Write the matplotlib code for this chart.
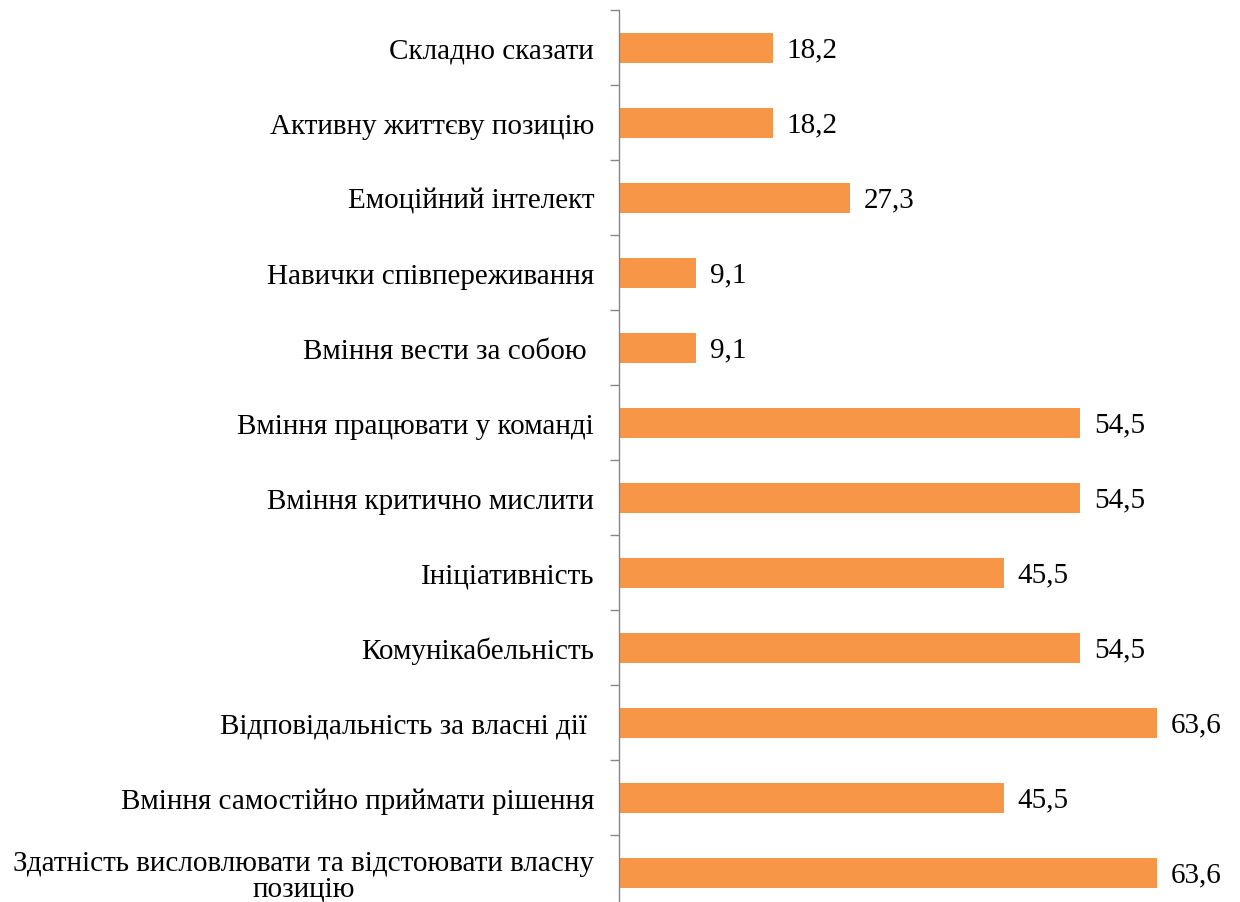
import matplotlib.pyplot as plt
import numpy as np

categories = [
    "Складно сказати",
    "Активну життєву позицію",
    "Емоційний інтелект",
    "Навички співпереживання",
    "Вміння вести за собою ",
    "Вміння працювати у команді",
    "Вміння критично мислити",
    "Ініціативність",
    "Комунікабельність",
    "Відповідальність за власні дії ",
    "Вміння самостійно приймати рішення",
    "Здатність висловлювати та відстоювати власну\nпозицію",
]
values = [18.2, 18.2, 27.3, 9.1, 9.1, 54.5, 54.5, 45.5, 54.5, 63.6, 45.5, 63.6]

plt.rcParams["font.family"] = ["Liberation Serif", "DejaVu Serif"]

fig = plt.figure(figsize=(12.4, 9.03), dpi=100)
ax = fig.add_axes([0.4992, -0.0089, 0.4776, 0.9967])

y = np.arange(len(categories))
ax.barh(y, values, height=0.4, color="#F79646")
for yi, v in zip(y, values):
    ax.annotate(f"{v:.1f}".replace(".", ","), (v, yi), xytext=(10, -1),
                textcoords="offset points", va="center", ha="left", fontsize=21)

ax.set_xlim(0, 70)
ax.set_ylim(len(categories) - 0.5, -0.5)
ax.set_yticks(y)
ax.set_yticklabels(categories, fontsize=21, multialignment="center",
                   linespacing=1.0)
ax.set_yticks(np.arange(-0.5, len(categories), 1), minor=True)
ax.tick_params(axis="y", which="major", length=0, pad=18)
ax.tick_params(axis="y", which="minor", length=6.5, width=1, color="#868686")
ax.set_xticks([])
for s in ["top", "right", "bottom"]:
    ax.spines[s].set_visible(False)
ax.spines["left"].set_color("#868686")
ax.spines["left"].set_linewidth(1)

fig.savefig("out.png", dpi=100)
